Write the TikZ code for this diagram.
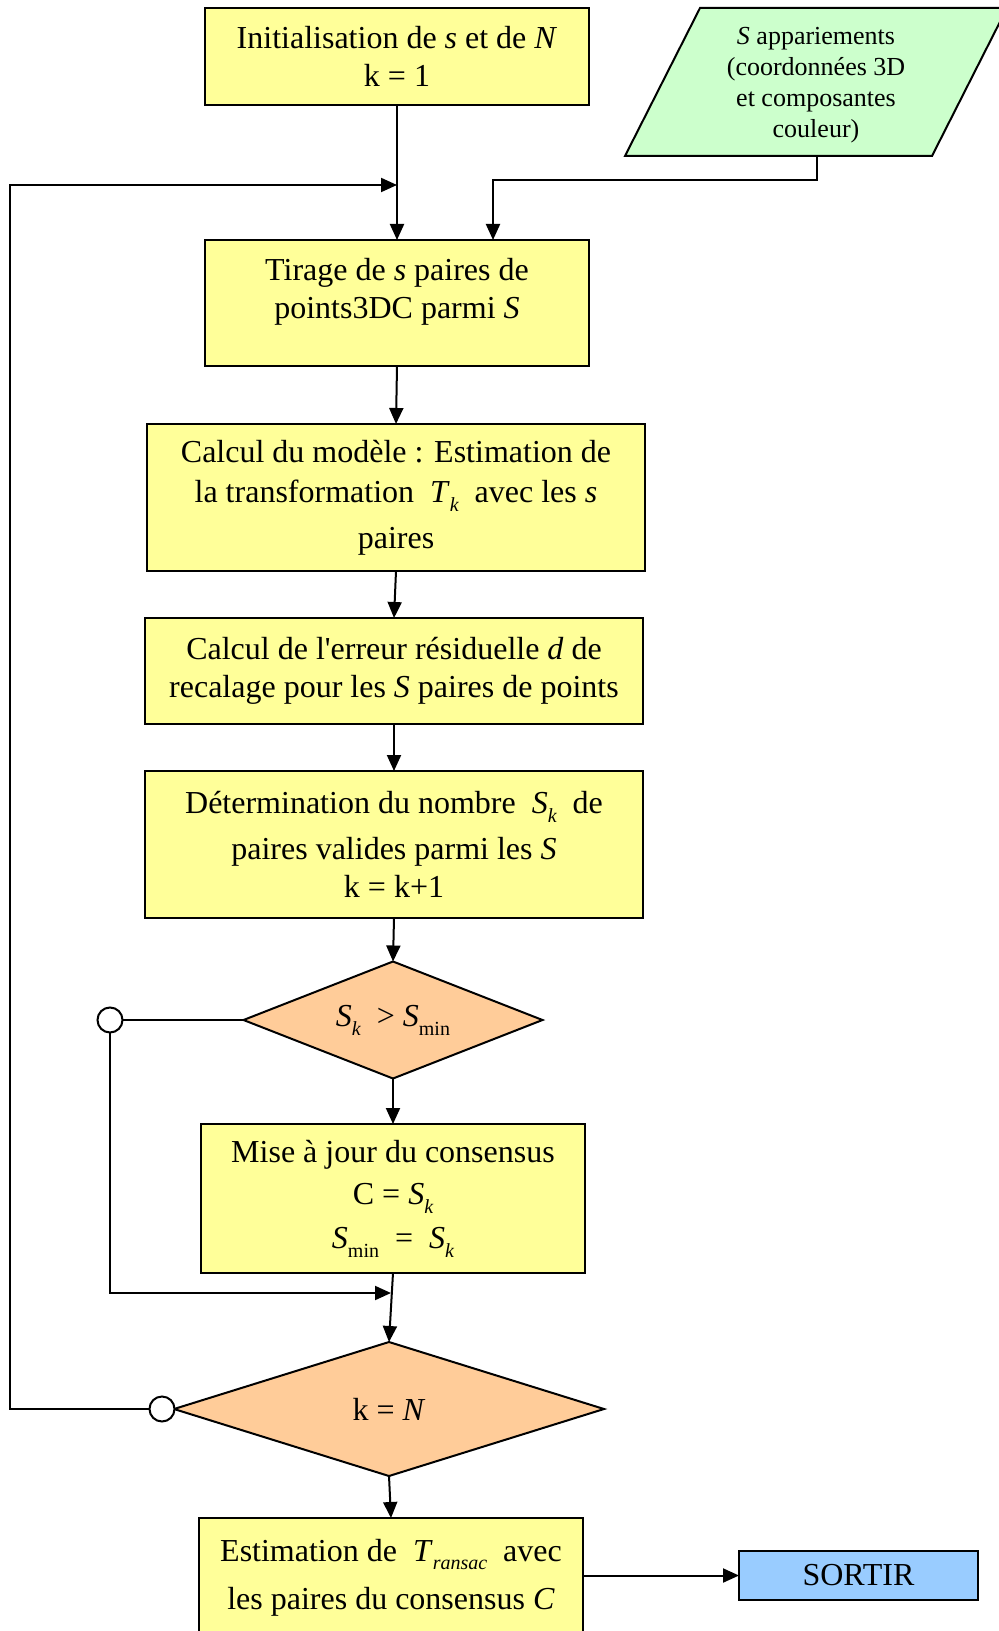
\documentclass[tikz,border=0pt]{standalone}
\usepackage{fontspec}
\setmainfont{Liberation Serif}
\usetikzlibrary{shapes.geometric,arrows.meta}
\definecolor{boxyellow}{HTML}{FFFF99}
\definecolor{inputgreen}{HTML}{CCFFCC}
\definecolor{testorange}{HTML}{FFCC99}
\definecolor{exitblue}{HTML}{99CCFF}
\newcommand{\idx}[2]{\textit{#1}\raisebox{-0.6ex}{\fontsize{10}{10}\selectfont\itshape #2}}
\newcommand{\idxmin}[1]{\textit{#1}\raisebox{-0.6ex}{\fontsize{10}{10}\selectfont min}}

\begin{document}
\begin{tikzpicture}[x=0.5pt,y=-0.5pt,
    every node/.style={font=\fontsize{16}{19}\selectfont, align=center, inner sep=0pt, outer sep=0pt},
    box/.style={draw, rectangle, line width=1pt, fill=boxyellow},
    test/.style={draw, diamond, line width=1pt, fill=testorange},
    knot/.style={draw, circle, line width=1pt, fill=white, minimum size=12.5pt},
    link/.style={line width=1pt, -{Triangle[length=8pt,width=7pt]}},
    line/.style={line width=1pt}]
    \clip (0,0) rectangle (999,1631);
    % boites
    \node[box, minimum width=192pt, minimum height=48.5pt] (init) at (397,56.5) {Initialisation de \textit{s} et de \textit{N}\\k = 1};
    \filldraw[fill=inputgreen, line width=1pt] (700,8) -- (1007,8) -- (932,156) -- (625,156) -- cycle;
    \node[font=\fontsize{13}{15.5}\selectfont] (para) at (816,85) {\textit{S} appariements\\(coordonnées 3D\\et composantes\\couleur)};
    \coordinate (para-s) at (817,156);
    \node[box, minimum width=192pt, minimum height=63pt] (tirage) at (397,303) {Tirage de \textit{s} paires de\\points3DC parmi \textit{S}\\[-4pt]~};
    \node[box, minimum width=249pt, minimum height=73.5pt] (modele) at (396,497.5) {Calcul du modèle : Estimation de\\[1pt]la transformation\ \ \idx{T}{k}\ \ avec les \textit{s}\\[4pt]paires};
    \node[box, minimum width=249pt, minimum height=53pt] (erreur) at (394,671) {Calcul de l\textquotesingle erreur résiduelle \textit{d} de\\recalage pour les \textit{S} paires de points};
    \node[box, minimum width=249pt, minimum height=73.5pt] (nombre) at (394,844.5) {Détermination du nombre\ \ \idx{S}{k}\ \ de\\[4pt]paires valides parmi les \textit{S}\\k = k+1};
    \node[test, aspect=2.56, minimum width=149.5pt, minimum height=58.5pt] (test1) at (393,1020) {\idx{S}{k}\ \ > \idxmin{S}};
    \node[box, minimum width=192pt, minimum height=74.5pt] (maj) at (393,1198.5) {Mise à jour du consensus\\[2pt]C = \idx{S}{k}\\[3pt]\idxmin{S}\ \ =\ \ \idx{S}{k}};
    \node[test, aspect=3.2, minimum width=215pt, minimum height=67pt] (test2) at (389,1409) {k = \textit{N}};
    \node[box, minimum width=192pt, minimum height=63pt] (estim) at (391,1581) {Estimation de\ \ \idx{T}{ransac}\ \ avec\\[5pt]les paires du consensus \textit{C}\\[-12pt]~};
    \node[draw, rectangle, line width=1pt, fill=exitblue, minimum width=119.5pt, minimum height=24.5pt] (sortir) at (858.5,1575.5) {SORTIR};
    \node[knot] (knot1) at (110,1020) {};
    \node[knot] (knot2) at (162,1409) {};
    \coordinate (j1) at (397,185);
    \coordinate (j2) at (391,1293);
    % liaisons
    \draw[link] (init.south) -- (tirage.north);
    \draw[link] (para-s) -- ++(0,24) -| ([xshift=48pt]tirage.north);
    \draw[link] (tirage.south) -- (modele.north);
    \draw[link] (modele.south) -- (erreur.north);
    \draw[link] (erreur.south) -- (nombre.north);
    \draw[link] (nombre.south) -- (test1.north);
    \draw[link] (test1.south) -- (maj.north);
    \draw[link] (maj.south) -- (test2.north);
    \draw[link] (test2.south) -- (estim.north);
    \draw[link] (estim.east |- sortir.west) -- (sortir.west);
    \draw[line] (knot1) -- (test1.west);
    \draw[link] (knot1) |- (j2);
    \draw[link] (knot2) -- (10,1409) |- (j1);
\end{tikzpicture}
\end{document}
